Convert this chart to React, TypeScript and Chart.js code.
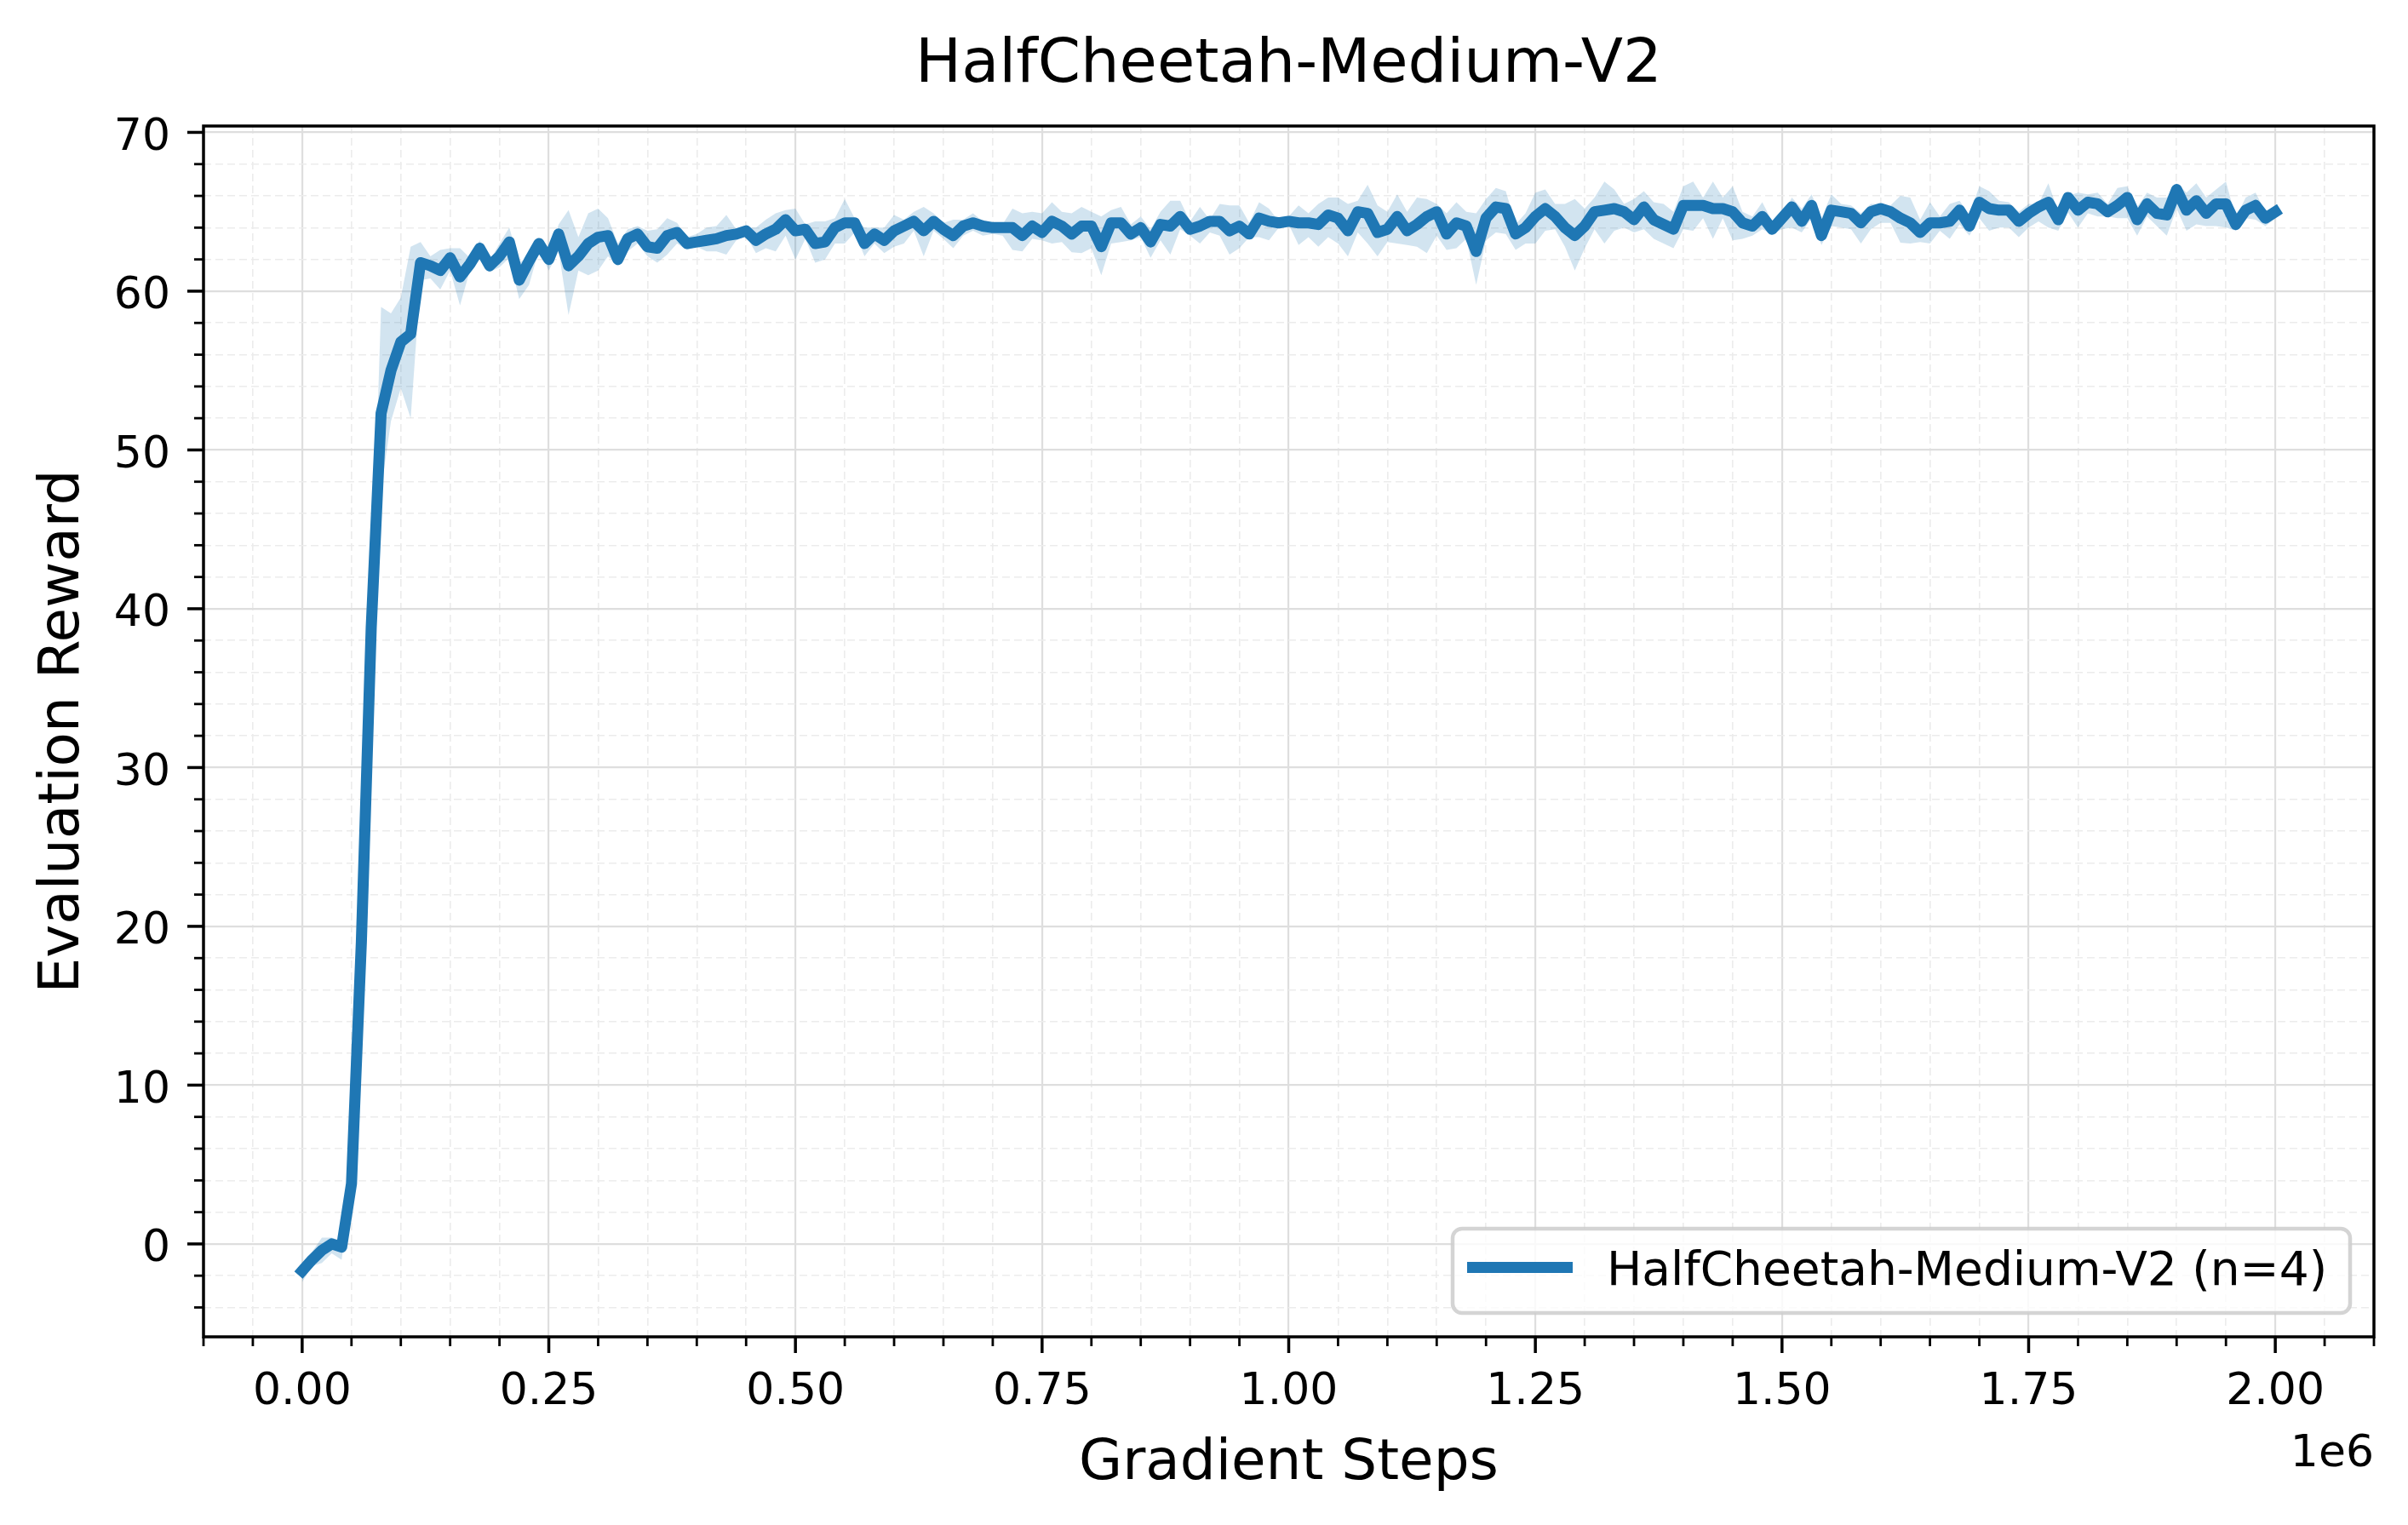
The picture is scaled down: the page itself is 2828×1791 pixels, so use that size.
import React, { useEffect, useRef } from 'react';
import { Chart, registerables } from 'chart.js';

Chart.register(...registerables);

const W = 2828;
const H = 1791;
const FONT = "'DejaVu Sans', sans-serif";

// ---------------- data ----------------
const EVAL_INTERVAL = 10000; // gradient steps between evaluations

const meanReward = [
  -1.7, -1.0, -0.4, 0.0, -0.2, 3.8, 19.0, 38.8, 52.3, 55.0,
  56.8, 57.3, 61.8, 61.6, 61.3, 62.1, 60.9, 61.7, 62.7, 61.6,
  62.2, 63.1, 60.7, 61.9, 63.0, 62.0, 63.6, 61.6, 62.2, 63.0,
  63.4, 63.5, 62.0, 63.3, 63.6, 62.8, 62.7, 63.5, 63.7, 63.0,
  63.1, 63.2, 63.3, 63.5, 63.6, 63.8, 63.2, 63.6, 63.9, 64.5,
  63.8, 63.9, 63.0, 63.1, 64.0, 64.3, 64.3, 63.0, 63.6, 63.2,
  63.8, 64.1, 64.4, 63.8, 64.4, 63.9, 63.5, 64.1, 64.3, 64.1,
  64.0, 64.0, 64.0, 63.5, 64.1, 63.7, 64.4, 64.1, 63.6, 64.1,
  64.1, 62.8, 64.3, 64.3, 63.6, 64.0, 63.1, 64.2, 64.1, 64.7,
  63.9, 64.1, 64.4, 64.4, 63.8, 64.1, 63.6, 64.6, 64.4, 64.3,
  64.4, 64.3, 64.3, 64.2, 64.8, 64.6, 63.8, 65.0, 64.9, 63.7,
  63.9, 64.7, 63.8, 64.2, 64.7, 65.0, 63.6, 64.3, 64.1, 62.5,
  64.6, 65.3, 65.2, 63.6, 64.0, 64.7, 65.2, 64.7, 64.0, 63.5,
  64.1, 65.0, 65.1, 65.2, 65.0, 64.5, 65.3, 64.5, 64.2, 63.9,
  65.4, 65.4, 65.4, 65.2, 65.2, 65.0, 64.3, 64.1, 64.7, 63.9,
  64.6, 65.3, 64.4, 65.4, 63.5, 65.1, 65.0, 64.9, 64.3, 65.0,
  65.2, 65.0, 64.6, 64.3, 63.7, 64.3, 64.3, 64.4, 65.1, 64.1,
  65.6, 65.2, 65.1, 65.1, 64.4, 64.9, 65.3, 65.6, 64.5, 65.9,
  65.1, 65.6, 65.5, 65.0, 65.4, 65.9, 64.5, 65.5, 64.9, 64.8,
  66.4, 65.1, 65.7, 64.9, 65.5, 65.5, 64.2, 65.1, 65.4, 64.6,
  65.0,
];

const upperReward = [
  -1.4, -0.5, 0.4, 0.4, 0.2, 4.3, 20.0, 40.0, 59.0, 58.6,
  59.6, 62.8, 63.1, 62.2, 62.6, 62.7, 62.7, 62.1, 63.2, 61.9,
  63.0, 64.0, 61.8, 62.2, 63.1, 62.3, 64.2, 65.1, 63.4, 64.9,
  65.2, 64.6, 63.0, 63.9, 64.1, 63.8, 63.9, 64.6, 64.3, 63.4,
  63.6, 64.0, 64.1, 64.8, 63.9, 64.0, 64.0, 64.5, 64.9, 65.1,
  65.2, 64.2, 64.4, 64.4, 64.6, 65.8, 64.6, 64.0, 64.0, 64.0,
  64.8, 64.5, 65.0, 65.3, 64.9, 64.3, 64.5, 64.5, 64.9, 64.4,
  64.1, 64.2, 65.2, 64.9, 65.0, 64.9, 65.6, 65.0, 64.9, 65.3,
  65.0, 64.7, 65.1, 65.3, 64.2, 64.7, 63.9, 65.0, 65.7, 65.7,
  64.4, 65.3, 64.5, 65.5, 65.4, 65.4, 64.3, 65.6, 65.2, 64.4,
  64.7, 65.4, 64.9, 65.5, 65.9, 65.9, 65.5, 65.7, 66.7, 65.4,
  65.0, 66.1, 65.0, 65.9, 65.8, 65.5, 64.9, 65.6, 65.0, 64.9,
  65.8, 66.5, 66.3, 64.2, 64.9, 66.2, 66.4, 65.5, 65.5, 65.8,
  65.2, 65.9, 66.9, 66.4, 65.5, 65.8, 66.3, 65.6, 65.5, 65.0,
  66.6, 66.9, 65.9, 66.9, 65.9, 66.6, 65.0, 64.7, 65.6, 64.4,
  64.7, 65.9, 65.2, 66.1, 64.6, 66.1, 65.5, 65.4, 64.9, 65.5,
  65.5, 65.4, 66.0, 65.9, 64.5, 65.6, 64.7, 65.5, 65.7, 64.8,
  66.6, 66.3, 65.7, 65.6, 65.0, 65.5, 65.5, 66.8, 65.0, 66.0,
  66.2, 66.1, 66.2, 65.5, 66.5, 66.6, 65.3, 66.2, 65.9, 65.9,
  66.8, 66.2, 66.8, 65.9, 66.4, 66.9, 64.6, 65.9, 66.2, 65.0,
  65.3,
];

const lowerReward = [
  -2.4, -1.4, -1.2, -0.6, -1.0, 3.3, 18.0, 37.5, 47.5, 51.8,
  53.9, 52.0, 60.7, 60.8, 60.1, 61.3, 59.1, 61.3, 62.1, 61.2,
  61.5, 62.1, 59.5, 60.4, 62.6, 61.3, 62.5, 58.5, 61.3, 61.0,
  61.3, 62.2, 61.6, 62.5, 63.0, 62.2, 61.8, 62.3, 63.0, 62.6,
  62.8, 62.5, 62.5, 62.3, 63.2, 63.5, 62.4, 62.7, 62.5, 63.5,
  62.0, 63.3, 61.8, 62.0, 63.0, 63.0, 63.7, 62.2, 63.0, 62.4,
  62.8, 63.0, 63.8, 62.2, 63.8, 63.3, 62.7, 63.5, 63.8, 63.5,
  63.6, 63.5, 62.6, 62.5, 63.3, 63.2, 63.0, 63.1, 62.45, 62.4,
  62.7, 61.0, 63.0, 63.1, 63.2, 63.4, 62.1, 63.2, 62.3, 63.9,
  63.5, 63.0, 63.7, 63.5, 62.3, 62.7, 63.4, 63.4, 63.2, 64.0,
  64.2, 62.9, 63.4, 62.8, 63.4, 63.0, 62.2, 63.7, 63.0, 62.2,
  63.1, 63.0, 62.9, 62.8, 62.4, 63.5, 62.6, 62.7, 63.3, 60.4,
  63.2, 63.7, 63.6, 62.6, 63.0, 63.0, 63.8, 63.9, 62.8, 61.3,
  62.7, 63.9, 63.0, 63.8, 64.0, 63.7, 63.9, 63.3, 63.0, 62.7,
  63.9, 63.8, 64.6, 63.3, 64.6, 63.2, 63.3, 63.5, 63.9, 63.6,
  63.9, 64.0, 63.7, 64.6, 62.9, 64.1, 64.0, 63.9, 63.0, 63.9,
  64.3, 64.3, 63.05, 63.0, 63.1, 63.0, 63.8, 63.3, 64.2, 63.5,
  64.6, 63.8, 64.0, 64.0, 63.4, 64.0, 64.4, 64.0, 63.8, 64.95,
  64.0, 64.9, 64.7, 64.7, 64.6, 64.6, 63.5, 64.7, 64.1, 63.5,
  65.2, 63.8, 64.2, 64.1, 64.1, 64.0, 63.8, 64.6, 64.5, 64.1,
  64.6,
];

const gradientSteps = meanReward.map((_, i) => i * EVAL_INTERVAL);

// ---------------- axes ----------------
const X_MIN = -100000;
const X_MAX = 2100000;
const Y_MIN = -5.85;
const Y_MAX = 70.4;

const xMajorTicks = [0, 250000, 500000, 750000, 1000000, 1250000, 1500000, 1750000, 2000000];
const xMajorLabels = ['0.00', '0.25', '0.50', '0.75', '1.00', '1.25', '1.50', '1.75', '2.00'];
const yMajorTicks = [0, 10, 20, 30, 40, 50, 60, 70];
const yMajorLabels = ['0', '10', '20', '30', '40', '50', '60', '70'];
const X_MINOR_STEP = 50000;
const Y_MINOR_STEP = 2;

const xAllTicks: number[] = [];
for (let v = X_MIN; v <= X_MAX + 1; v += X_MINOR_STEP) xAllTicks.push(v);
const yAllTicks: number[] = [];
for (let v = -4; v <= 70; v += Y_MINOR_STEP) yAllTicks.push(v);

const TITLE = 'HalfCheetah-Medium-V2';
const X_LABEL = 'Gradient Steps';
const Y_LABEL = 'Evaluation Reward';
const LEGEND_LABEL = 'HalfCheetah-Medium-V2 (n=4)';
const OFFSET_TEXT = '1e6';

const LINE_COLOR = '#1f77b4';
const BAND_COLOR = 'rgba(31,119,180,0.2)';
const MAJOR_GRID = '#dedede';
const MINOR_GRID = '#ececec';

const xMajorIndex = (v: number) => xMajorTicks.findIndex((t) => Math.abs(t - v) < 1);
const yMajorIndex = (v: number) => yMajorTicks.findIndex((t) => Math.abs(t - v) < 1e-6);

// ---------------- layout constants (pixels) ----------------
const AREA_LEFT = 239;
const AREA_RIGHT = 2788;
const AREA_BOTTOM = 1570;
// y tick labels are pushed down a little so the digits sit centred on the tick (matplotlib style)
const Y_LABEL_SHIFT_LINEHEIGHT = 14;

const decorPlugin = {
  id: 'decor',
  afterDatasetsDraw(chart: any) {
    const { ctx, chartArea: a, scales } = chart;
    const xs = scales.x;
    const ys = scales.y;
    ctx.save();
    ctx.strokeStyle = '#000';
    ctx.lineCap = 'butt';
    // spines
    ctx.lineWidth = 3.5;
    ctx.strokeRect(a.left, a.top, a.right - a.left, a.bottom - a.top);
    // x tick marks
    for (const v of xAllTicks) {
      const px = xs.getPixelForValue(v);
      const major = xMajorIndex(v) >= 0;
      ctx.lineWidth = major ? 3.5 : 2.8;
      ctx.beginPath();
      ctx.moveTo(px, a.bottom);
      ctx.lineTo(px, a.bottom + (major ? 19 : 11));
      ctx.stroke();
    }
    // y tick marks
    for (const v of yAllTicks) {
      const py = ys.getPixelForValue(v);
      const major = yMajorIndex(v) >= 0;
      ctx.lineWidth = major ? 3.5 : 2.8;
      ctx.beginPath();
      ctx.moveTo(a.left, py);
      ctx.lineTo(a.left - (major ? 19 : 11), py);
      ctx.stroke();
    }
    // offset text
    ctx.fillStyle = '#000';
    ctx.font = `52px ${FONT}`;
    ctx.textAlign = 'right';
    ctx.textBaseline = 'alphabetic';
    ctx.fillText(OFFSET_TEXT, a.right, 1722);

    // legend
    const lx = 1706, ly = 1443, lw = 1054, lh = 99, r = 11;
    ctx.beginPath();
    ctx.moveTo(lx + r, ly);
    ctx.lineTo(lx + lw - r, ly);
    ctx.arcTo(lx + lw, ly, lx + lw, ly + r, r);
    ctx.lineTo(lx + lw, ly + lh - r);
    ctx.arcTo(lx + lw, ly + lh, lx + lw - r, ly + lh, r);
    ctx.lineTo(lx + r, ly + lh);
    ctx.arcTo(lx, ly + lh, lx, ly + lh - r, r);
    ctx.lineTo(lx, ly + r);
    ctx.arcTo(lx, ly, lx + r, ly, r);
    ctx.closePath();
    ctx.fillStyle = 'rgba(255,255,255,0.8)';
    ctx.fill();
    ctx.strokeStyle = 'rgba(204,204,204,0.85)';
    ctx.lineWidth = 4.5;
    ctx.stroke();

    ctx.strokeStyle = LINE_COLOR;
    ctx.lineWidth = 13;
    ctx.beginPath();
    ctx.moveTo(1723, 1488.5);
    ctx.lineTo(1847, 1488.5);
    ctx.stroke();

    ctx.fillStyle = '#000';
    ctx.font = `55px ${FONT}`;
    ctx.textAlign = 'left';
    ctx.fillText(LEGEND_LABEL, 1887, 1509);
    ctx.restore();
  },
};

export default function App() {
  const canvasRef = useRef<HTMLCanvasElement>(null);

  useEffect(() => {
    const canvas = canvasRef.current;
    if (!canvas) return;

    const toPoints = (vals: number[]) => vals.map((y, i) => ({ x: gradientSteps[i], y }));

    const chart = new Chart(canvas, {
      type: 'line',
      data: {
        datasets: [
          {
            label: LEGEND_LABEL,
            data: toPoints(meanReward),
            borderColor: LINE_COLOR,
            backgroundColor: LINE_COLOR,
            borderWidth: 13,
            pointRadius: 0,
            borderJoinStyle: 'round',
            borderCapStyle: 'square',
            tension: 0,
            fill: false,
          },
          {
            label: 'upper',
            data: toPoints(upperReward),
            borderColor: 'rgba(0,0,0,0)',
            borderWidth: 0,
            pointRadius: 0,
            backgroundColor: BAND_COLOR,
            fill: '+1',
            tension: 0,
          },
          {
            label: 'lower',
            data: toPoints(lowerReward),
            borderColor: 'rgba(0,0,0,0)',
            borderWidth: 0,
            pointRadius: 0,
            fill: false,
            tension: 0,
          },
        ],
      },
      options: {
        responsive: false,
        animation: false,
        devicePixelRatio: 1,
        events: [],
        layout: { padding: { left: 0, top: 0, right: W - AREA_RIGHT, bottom: 0 } },
        plugins: {
          legend: { display: false },
          tooltip: { enabled: false },
          title: {
            display: true,
            fullSize: false,
            text: TITLE,
            color: '#000',
            font: { family: FONT, size: 72, weight: 'normal', lineHeight: 1.2 },
            padding: { top: 34.1, bottom: 27.5 },
          },
        },
        scales: {
          x: {
            type: 'linear',
            min: X_MIN,
            max: X_MAX,
            afterBuildTicks: (s: any) => {
              s.ticks = xAllTicks.map((value) => ({ value }));
            },
            afterFit: (s: any) => {
              s.height = H - AREA_BOTTOM;
            },
            ticks: {
              autoSkip: false,
              maxRotation: 0,
              minRotation: 0,
              padding: 34.3,
              color: '#000',
              font: { family: FONT, size: 52 },
              callback: (v: any) => {
                const i = xMajorIndex(Number(v));
                return i >= 0 ? xMajorLabels[i] : '';
              },
            },
            grid: {
              drawTicks: false,
              color: (c: any) => (xMajorIndex(c.tick?.value) >= 0 ? MAJOR_GRID : MINOR_GRID),
              lineWidth: (c: any) => (xMajorIndex(c.tick?.value) >= 0 ? 2.2 : 1.6),
            },
            border: {
              display: false,
              dash: (c: any) => (xMajorIndex(c.tick?.value) >= 0 ? [] : [9, 5]),
            },
            title: {
              display: true,
              text: X_LABEL,
              color: '#000',
              font: { family: FONT, size: 66, lineHeight: 1.2 },
              padding: { top: 0, bottom: 31.6 },
            },
          },
          y: {
            type: 'linear',
            min: Y_MIN,
            max: Y_MAX,
            afterBuildTicks: (s: any) => {
              s.ticks = yAllTicks.map((value) => ({ value }));
            },
            afterFit: (s: any) => {
              s.width = AREA_LEFT;
            },
            ticks: {
              autoSkip: false,
              padding: 39,
              color: '#000',
              font: { family: FONT, size: 52, lineHeight: `${Y_LABEL_SHIFT_LINEHEIGHT}px` },
              callback: (v: any) => {
                const i = yMajorIndex(Number(v));
                return i >= 0 ? ['', yMajorLabels[i]] : '';
              },
            },
            grid: {
              drawTicks: false,
              color: (c: any) => (yMajorIndex(c.tick?.value) >= 0 ? MAJOR_GRID : MINOR_GRID),
              lineWidth: (c: any) => (yMajorIndex(c.tick?.value) >= 0 ? 2.2 : 1.6),
            },
            border: {
              display: false,
              dash: (c: any) => (yMajorIndex(c.tick?.value) >= 0 ? [] : [9, 5]),
            },
            title: {
              display: true,
              text: Y_LABEL,
              color: '#000',
              font: { family: FONT, size: 66, lineHeight: 1.2 },
              padding: { top: 35.2, bottom: 0 },
            },
          },
        },
      },
      plugins: [decorPlugin],
    } as any);

    return () => chart.destroy();
  }, []);

  return (
    <div style={{ position: 'fixed', left: 0, top: 0, width: W, height: H, background: '#fff' }}>
      <canvas ref={canvasRef} width={W} height={H} style={{ display: 'block', width: W, height: H }} />
    </div>
  );
}
